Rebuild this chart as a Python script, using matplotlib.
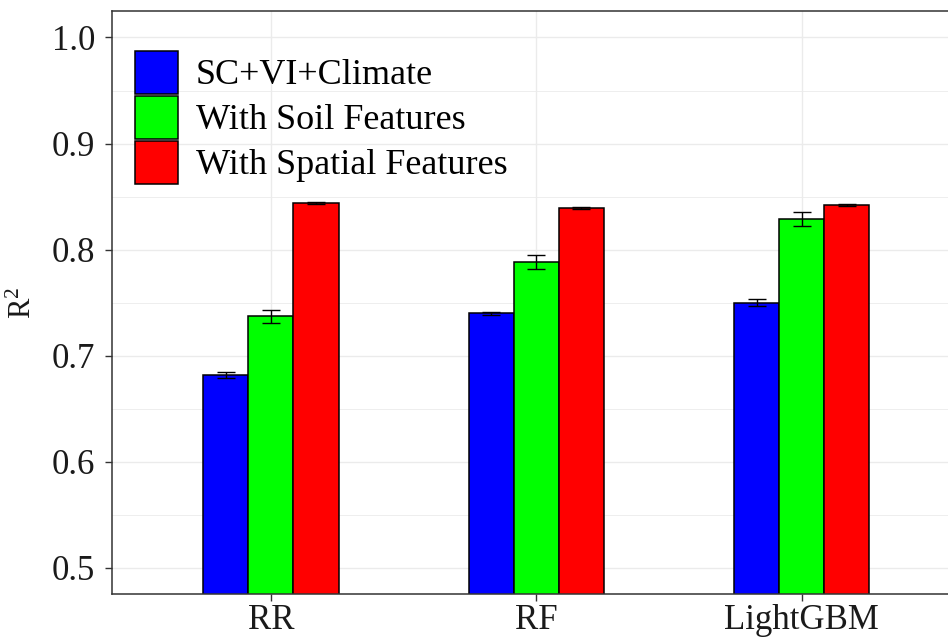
import numpy as np
import matplotlib
matplotlib.use('Agg')
import matplotlib.pyplot as plt

# R2 per model and feature set (mean, error)
models = ['RR', 'RF', 'LightGBM']
feature_sets = ['SC+VI+Climate', 'With Soil Features', 'With Spatial Features']
r2_base = [0.682, 0.740, 0.750]
r2_soil = [0.737, 0.788, 0.829]
r2_spatial = [0.844, 0.839, 0.842]
err_base = [0.003, 0.0015, 0.0035]
err_soil = [0.006, 0.0065, 0.0066]
err_spatial = [0.0012, 0.001, 0.0012]
bar_colors = ['#0000FF', '#00FF00', '#FF0000']

plt.rcParams['font.family'] = ['Liberation Serif', 'DejaVu Serif']
plt.rcParams['mathtext.fontset'] = 'custom'
plt.rcParams['mathtext.rm'] = 'Liberation Serif'
plt.rcParams['mathtext.it'] = 'Liberation Serif:italic'

fig = plt.figure(figsize=(9.48, 6.41), dpi=100)
ax = fig.add_axes([0.1178, 0.0729, 0.8959, 0.9100])

x = np.arange(1, len(models) + 1)
bw = 0.17
series = [(r2_base, err_base), (r2_soil, err_soil), (r2_spatial, err_spatial)]
for i, (vals, errs) in enumerate(series):
    pos = x + (i - 1) * bw
    ax.bar(pos, vals, width=bw, color=bar_colors[i], edgecolor='black',
           linewidth=1.1, label=feature_sets[i], zorder=2)
    ax.errorbar(pos, vals, yerr=errs, fmt='none', ecolor='black',
                elinewidth=1.0, capsize=6.5, capthick=1.0, zorder=3)

ax.set_xlim(0.4, 3.6)
ax.set_ylim(0.475, 1.025)
ax.set_xticks(x)
ax.set_xticklabels(models)
ax.set_yticks([0.5, 0.6, 0.7, 0.8, 0.9, 1.0])
ax.set_yticks([0.55, 0.65, 0.75, 0.85, 0.95], minor=True)
ax.yaxis.set_major_formatter(plt.FuncFormatter(lambda v, _: f'{v:.1f}'))

ax.grid(True, which='major', color='#EBEBEB', linewidth=1.0, zorder=0)
ax.grid(True, which='minor', axis='y', color='#EBEBEB', linewidth=0.6, zorder=0)
ax.set_axisbelow(True)

for s in ax.spines.values():
    s.set_color('#333333')
    s.set_linewidth(1.1)

ax.tick_params(axis='both', which='major', length=5, width=1.0, color='#333333',
               labelsize=25, labelcolor='#1a1a1a')
ax.tick_params(axis='y', which='major', pad=7)
ax.tick_params(axis='x', which='major', pad=2)
ax.tick_params(which='minor', length=0)

ax.set_ylabel(r'R$^{2}$', fontsize=22, labelpad=10, color='#1a1a1a')

ax.legend(loc='upper left', bbox_to_anchor=(135 / 948, 1 - 50.7 / 641),
          bbox_transform=fig.transFigure, frameon=False, fontsize=26,
          handlelength=1.19, handleheight=1.46, handletextpad=0.5,
          labelspacing=0.05, borderpad=0, borderaxespad=0)

fig.savefig('out.png', dpi=100)
